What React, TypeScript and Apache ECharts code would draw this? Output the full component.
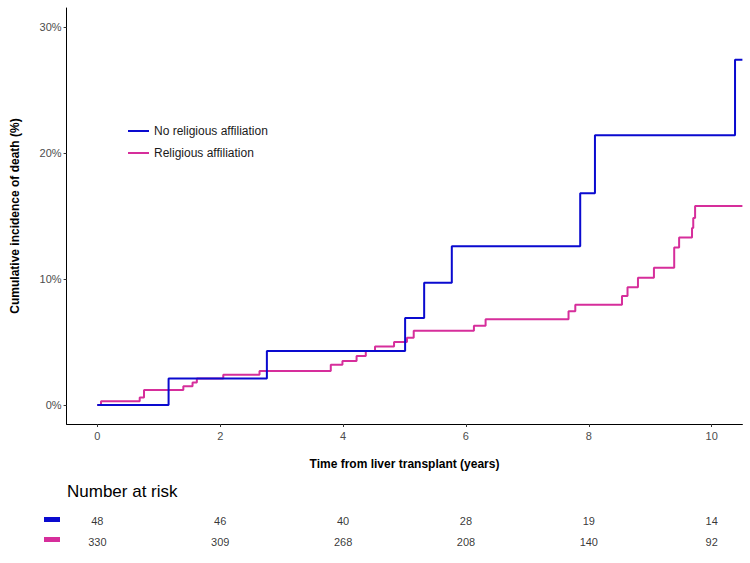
import React, { useEffect, useRef } from "react";
import * as echarts from "echarts";

const seriesNames = ["No religious affiliation", "Religious affiliation"];
const seriesColors = ["#0A0ACF", "#D62E9B"];

// Cumulative incidence (%), step functions: value holds from time t onward
const noRelTimes = [0, 1.16, 2.76, 5.01, 5.32, 5.77, 7.86, 8.1, 10.38, 10.5];
const noRelValues = [0, 2.1, 4.3, 6.9, 9.7, 12.6, 16.8, 21.4, 27.4, 27.4];

const relTimes = [
  0, 0.06, 0.69, 0.76, 1.4, 1.55, 1.62, 2.05, 2.64, 3.8, 3.99, 4.22, 4.37, 4.52,
  4.83, 5.04, 5.15, 6.13, 6.32, 7.67, 7.78, 8.54, 8.63, 8.8, 9.06, 9.39, 9.47,
  9.68, 9.7, 9.73, 10.5,
];
const relValues = [
  0, 0.3, 0.6, 1.2, 1.5, 1.8, 2.1, 2.4, 2.7, 3.2, 3.5, 3.9, 4.3, 4.65, 5.0,
  5.35, 5.9, 6.3, 6.8, 7.45, 7.95, 8.65, 9.35, 10.1, 10.9, 12.5, 13.3, 14.05,
  14.85, 15.8, 15.8,
];

const xTicks = [0, 2, 4, 6, 8, 10];
const yTicks = [0, 10, 20, 30];

const riskTimes = [0, 2, 4, 6, 8, 10];
const riskNoRel = [48, 46, 40, 28, 19, 14];
const riskRel = [330, 309, 268, 208, 140, 92];

const FONT = "Liberation Sans";

export default function App() {
  const ref = useRef<HTMLDivElement>(null);

  useEffect(() => {
    document.body.style.margin = "0";
    if (!ref.current) return;
    const chart = echarts.init(ref.current, null, { renderer: "svg" });

    const gridLeft = 66.6;
    const gridRight = 7.6;

    const option: any = {
      animation: false,
      backgroundColor: "#ffffff",
      textStyle: { fontFamily: FONT },
      grid: [
        { left: gridLeft, right: gridRight, top: 8, height: 416 },
        { left: gridLeft, right: gridRight, top: 510, height: 42 },
      ],
      legend: {
        data: seriesNames,
        orient: "vertical",
        left: 123,
        top: 119,
        itemWidth: 21,
        itemHeight: 2,
        itemGap: 8,
        icon: "rect",
        textStyle: { fontSize: 12, color: "#1a1a1a", fontFamily: FONT, lineHeight: 14 },
      },
      xAxis: [
        {
          gridIndex: 0,
          type: "value",
          min: -0.5,
          max: 10.5,
          name: "Time from liver transplant (years)",
          nameLocation: "middle",
          nameGap: 34,
          nameTextStyle: { fontSize: 12, fontWeight: "bold", color: "#000", fontFamily: FONT },
          splitLine: { show: false },
          axisLine: { show: true, onZero: false, lineStyle: { color: "#000", width: 1 } },
          axisTick: { show: true, customValues: xTicks, length: 3, lineStyle: { color: "#333" } },
          axisLabel: {
            customValues: xTicks,
            fontSize: 11,
            color: "#4d4d4d",
            margin: 6,
            fontFamily: FONT,
          },
        },
        { gridIndex: 1, type: "value", min: -0.5, max: 10.5, show: false },
      ],
      yAxis: [
        {
          gridIndex: 0,
          type: "value",
          min: -1.5,
          max: 31.5,
          name: "Cumulative incidence of death (%)",
          nameLocation: "middle",
          nameGap: 46,
          nameTextStyle: { fontSize: 12, fontWeight: "bold", color: "#000", fontFamily: FONT },
          splitLine: { show: false },
          axisLine: { show: true, onZero: false, lineStyle: { color: "#000", width: 1 } },
          axisTick: { show: true, customValues: yTicks, length: 3, lineStyle: { color: "#333" } },
          axisLabel: {
            customValues: yTicks,
            formatter: (v: number) => `${v}%`,
            fontSize: 11,
            color: "#4d4d4d",
            margin: 5,
            fontFamily: FONT,
          },
        },
        {
          gridIndex: 1,
          type: "category",
          data: seriesNames,
          inverse: true,
          show: false,
        },
      ],
      series: [
        {
          name: seriesNames[0],
          type: "line",
          step: "end",
          xAxisIndex: 0,
          yAxisIndex: 0,
          symbol: "none",
          showSymbol: false,
          data: noRelTimes.map((t, i) => [t, noRelValues[i]]),
          lineStyle: { width: 2, color: seriesColors[0] },
          itemStyle: { color: seriesColors[0] },
          z: 3,
        },
        {
          name: seriesNames[1],
          type: "line",
          step: "end",
          xAxisIndex: 0,
          yAxisIndex: 0,
          symbol: "none",
          showSymbol: false,
          data: relTimes.map((t, i) => [t, relValues[i]]),
          lineStyle: { width: 2, color: seriesColors[1] },
          itemStyle: { color: seriesColors[1] },
          z: 2,
        },
        {
          type: "scatter",
          xAxisIndex: 1,
          yAxisIndex: 1,
          symbolSize: 1,
          itemStyle: { color: "rgba(0,0,0,0)" },
          silent: true,
          data: [
            ...riskTimes.map((t, i) => [t, seriesNames[0], riskNoRel[i]]),
            ...riskTimes.map((t, i) => [t, seriesNames[1], riskRel[i]]),
          ],
          label: {
            show: true,
            position: "inside",
            formatter: (p: any) => String(p.value[2]),
            fontSize: 11,
            color: "#000",
            fontFamily: FONT,
          },
        },
      ],
      graphic: [
        {
          type: "text",
          left: 67,
          top: 483,
          style: { text: "Number at risk", fontSize: 17, fill: "#000", fontFamily: FONT },
        },
        {
          type: "rect",
          left: 44,
          top: 517,
          shape: { width: 16, height: 5 },
          style: { fill: seriesColors[0] },
        },
        {
          type: "rect",
          left: 44,
          top: 537,
          shape: { width: 16, height: 5 },
          style: { fill: seriesColors[1] },
        },
      ],
    };

    chart.setOption(option);
    return () => chart.dispose();
  }, []);

  return <div ref={ref} style={{ width: 750, height: 563 }} />;
}
